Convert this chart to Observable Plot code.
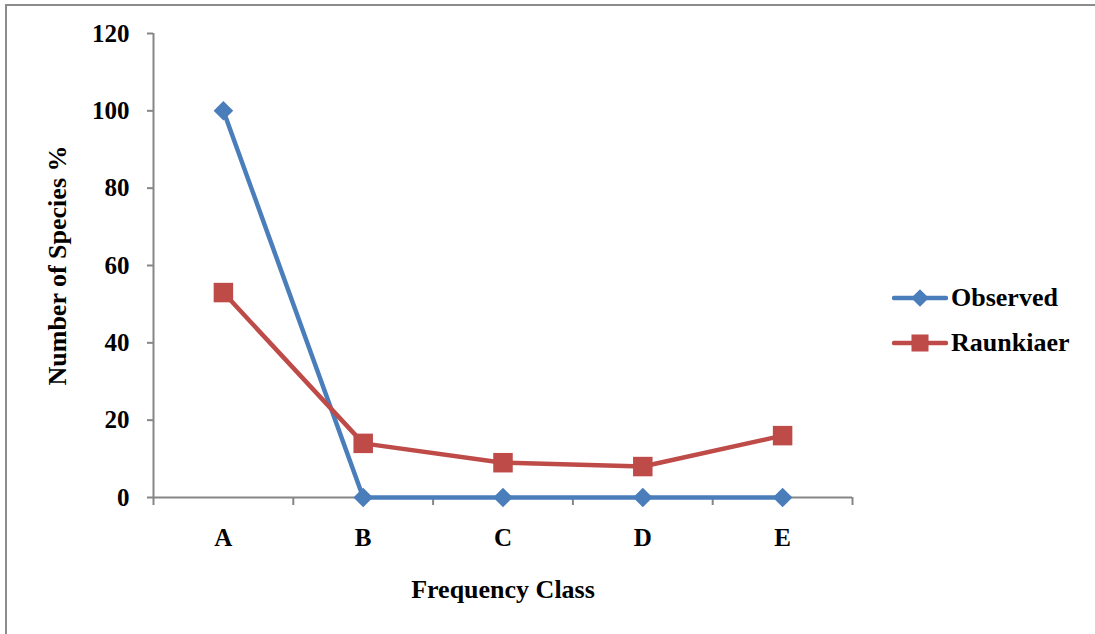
<!DOCTYPE html>
<html>
<head>
<meta charset="utf-8">
<script src="https://cdn.jsdelivr.net/npm/d3@7"></script>
<script src="https://cdn.jsdelivr.net/npm/@observablehq/plot@0.6"></script>
<style>
  html, body { margin: 0; padding: 0; background: #fff; }
  #wrap {
    position: relative; width: 1095px; height: 634px; overflow: hidden;
    font-family: "Liberation Serif", "Times New Roman", serif; font-weight: bold;
  }
  #frame {
    position: absolute; left: 5px; top: 4px; right: -10px; bottom: -10px;
    border-top: 2px solid #8c8c8c; border-left: 2px solid #8c8c8c;
    pointer-events: none;
  }
  #chart { position: absolute; left: 0; top: 0; }
  .legend-row {
    position: absolute; left: 892px; height: 30px;
    display: flex; align-items: center; font-size: 26px; color: #000;
  }
  .legend-row svg { display: block; margin-right: 3px; }
</style>
</head>
<body>
<div id="wrap">
  <div id="chart"></div>
  <div id="frame"></div>
</div>
<script>
// Frequency classes and the two series (percent of species per class)
const classes = ["A", "B", "C", "D", "E"];
const observed = [100, 0, 0, 0, 0];
const raunkiaer = [53, 14, 9, 8, 16];
const yTicks = [0, 20, 40, 60, 80, 100, 120];

const seriesNames = ["Observed", "Raunkiaer"];
const seriesColors = ["#4a7ebb", "#be4b48"];
const seriesSymbols = ["diamond2", "square"];

const rows = [];
classes.forEach((c, i) => {
  rows.push({series: seriesNames[0], i, value: observed[i]});
});
classes.forEach((c, i) => {
  rows.push({series: seriesNames[1], i, value: raunkiaer[i]});
});

// category i sits in the middle of the band [i - 0.5, i + 0.5]
const bounds = d3.range(classes.length + 1).map(k => k - 0.5);
const centers = classes.map((_, i) => i);
const axisColor = "#868686";

const plot = Plot.plot({
  width: 1095,
  height: 634,
  marginLeft: 153,
  marginRight: 243,
  marginTop: 33,
  marginBottom: 137,
  style: {fontFamily: "'Liberation Serif', 'Times New Roman', serif", fontWeight: "bold", fontSize: "25px", color: "#000", background: "transparent"},
  x: {domain: [bounds[0], bounds[bounds.length - 1]], axis: null},
  y: {domain: [0, 120], axis: null},
  marks: [
    // axis lines
    Plot.ruleX([bounds[0]], {y1: 0, y2: 120, stroke: axisColor, strokeWidth: 2}),
    Plot.ruleY([0], {x1: bounds[0], x2: bounds[bounds.length - 1], stroke: axisColor, strokeWidth: 2}),
    // y ticks and labels
    Plot.axisY({ticks: yTicks, tickSize: 6, tickPadding: 18, stroke: axisColor, strokeWidth: 2, color: "#000", label: null, fontSize: 25}),
    // x tick marks at the band boundaries
    Plot.axisX({ticks: bounds, tickSize: 8, tickFormat: () => "", stroke: axisColor, strokeWidth: 2, label: null}),
    // x category labels at the band centres
    Plot.axisX({ticks: centers, tickSize: 0, tickPadding: 31, tickFormat: i => classes[i], label: null, fontSize: 25}),
    // axis titles
    Plot.text(["Number of Species %"], {text: d => d, frameAnchor: "left", textAnchor: "middle", lineAnchor: "middle", dx: -96, rotate: -90, fontSize: 26, fontWeight: "bold", fill: "#000"}),
    Plot.text(["Frequency Class"], {text: d => d, frameAnchor: "bottom", textAnchor: "middle", lineAnchor: "middle", dy: 92, fontSize: 26, fontWeight: "bold", fill: "#000"}),
    // series lines and markers
    Plot.line(rows, {x: "i", y: "value", z: "series", stroke: d => seriesColors[seriesNames.indexOf(d.series)], strokeWidth: 4.5, strokeLinejoin: "round", strokeLinecap: "round"}),
    Plot.dot(rows.filter(d => d.series === seriesNames[0]), {x: "i", y: "value", symbol: "diamond2", r: 8.8, fill: seriesColors[0], stroke: "none"}),
    Plot.dot(rows.filter(d => d.series === seriesNames[1]), {x: "i", y: "value", symbol: "square", r: 11, fill: seriesColors[1], stroke: "none"})
  ]
});
document.getElementById("chart").appendChild(plot);

// legend on the right
const legendCenters = [298, 343];
const wrap = document.getElementById("wrap");
seriesNames.forEach((name, k) => {
  const row = document.createElement("div");
  row.className = "legend-row";
  row.style.top = (legendCenters[k] - 15) + "px";
  const svg = d3.create("svg").attr("width", 56).attr("height", 24);
  svg.append("line").attr("x1", 2).attr("x2", 54).attr("y1", 12).attr("y2", 12)
    .attr("stroke", seriesColors[k]).attr("stroke-width", 4.5).attr("stroke-linecap", "round");
  const sym = seriesSymbols[k] === "square" ? d3.symbolSquare : d3.symbolDiamond2;
  const size = seriesSymbols[k] === "square" ? 290 : 200;
  svg.append("path").attr("d", d3.symbol(sym, size)()).attr("transform", "translate(28,12)")
    .attr("fill", seriesColors[k]);
  row.appendChild(svg.node());
  const label = document.createElement("span");
  label.textContent = name;
  row.appendChild(label);
  wrap.appendChild(row);
});
</script>
</body>
</html>
